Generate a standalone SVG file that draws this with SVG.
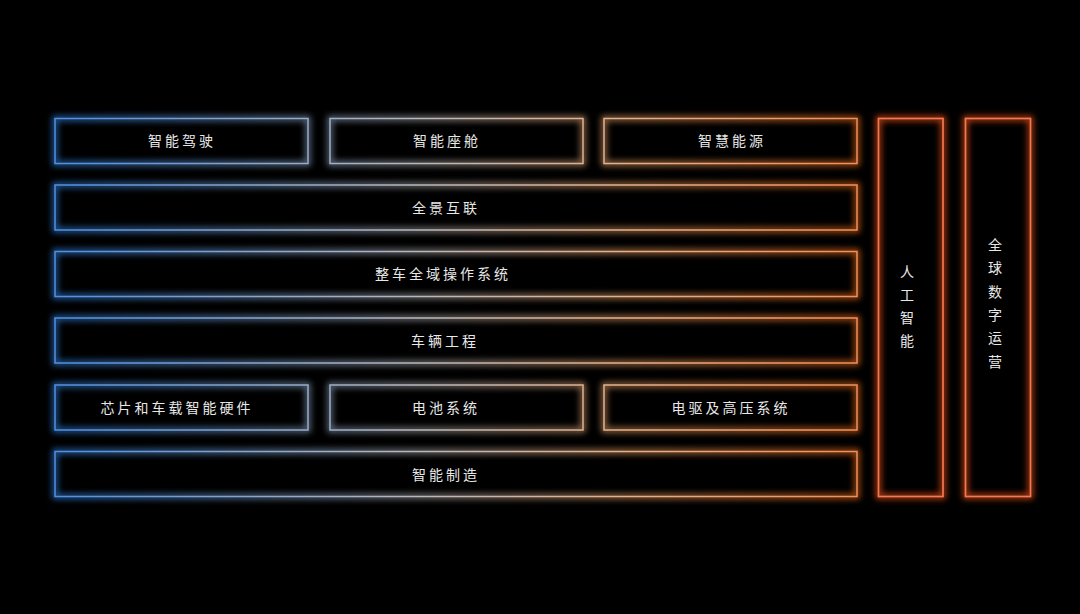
<svg xmlns="http://www.w3.org/2000/svg" width="1080" height="614" viewBox="0 0 1080 614">
<defs>
<linearGradient id="g" gradientUnits="userSpaceOnUse" x1="55" y1="0" x2="857" y2="0">
<stop offset="0" stop-color="#2f7fe0"/>
<stop offset="0.45" stop-color="#a0a0a5"/>
<stop offset="0.72" stop-color="#d9925a"/>
<stop offset="1" stop-color="#f06a1a"/>
</linearGradient>
<linearGradient id="gc" gradientUnits="userSpaceOnUse" x1="55" y1="0" x2="857" y2="0">
<stop offset="0" stop-color="#4f90e0"/>
<stop offset="0.45" stop-color="#b8b8bc"/>
<stop offset="0.72" stop-color="#e8b088"/>
<stop offset="1" stop-color="#f0905a"/>
</linearGradient>
<filter id="glow" x="-20%" y="-50%" width="140%" height="200%">
<feGaussianBlur stdDeviation="3"/>
</filter>
</defs>
<style>
.glow{fill:none;stroke:url(#g);stroke-width:5;filter:url(#glow);opacity:0.75}
.core{fill:none;stroke:url(#gc);stroke-width:1.5}
.vglow{fill:none;stroke:#f0501a;stroke-width:5;filter:url(#glow);opacity:0.8}
.vcore{fill:none;stroke:#f27a4e;stroke-width:1.7}
text{font-family:"Noto Sans CJK SC","Noto Sans",sans-serif;font-size:14px;fill:#e8e8e8;text-anchor:middle;letter-spacing:3px}
.v{letter-spacing:0}
</style>
<rect width="1080" height="614" fill="#000"/>
<g id="n1"><rect class="glow" x="55" y="118.5" width="253" height="45"/><rect class="core" x="55" y="118.5" width="253" height="45"/><text x="182" y="146">智能驾驶</text></g>
<g id="n2"><rect class="glow" x="330" y="118.5" width="253" height="45"/><rect class="core" x="330" y="118.5" width="253" height="45"/><text x="447" y="146">智能座舱</text></g>
<g id="n3"><rect class="glow" x="604" y="118.5" width="253" height="45"/><rect class="core" x="604" y="118.5" width="253" height="45"/><text x="732" y="146">智慧能源</text></g>
<g id="n4"><rect class="glow" x="55" y="185" width="802" height="45"/><rect class="core" x="55" y="185" width="802" height="45"/><text x="446" y="213">全景互联</text></g>
<g id="n5"><rect class="glow" x="55" y="251.5" width="802" height="45"/><rect class="core" x="55" y="251.5" width="802" height="45"/><text x="443" y="279">整车全域操作系统</text></g>
<g id="n6"><rect class="glow" x="55" y="318" width="802" height="45"/><rect class="core" x="55" y="318" width="802" height="45"/><text x="445" y="346">车辆工程</text></g>
<g id="n7"><rect class="glow" x="55" y="385" width="253" height="45"/><rect class="core" x="55" y="385" width="253" height="45"/><text x="177" y="413">芯片和车载智能硬件</text></g>
<g id="n8"><rect class="glow" x="330" y="385" width="253" height="45"/><rect class="core" x="330" y="385" width="253" height="45"/><text x="446" y="413">电池系统</text></g>
<g id="n9"><rect class="glow" x="604" y="385" width="253" height="45"/><rect class="core" x="604" y="385" width="253" height="45"/><text x="731" y="413">电驱及高压系统</text></g>
<g id="n10"><rect class="glow" x="55" y="451.5" width="802" height="45"/><rect class="core" x="55" y="451.5" width="802" height="45"/><text x="446" y="480">智能制造</text></g>
<g id="n11"><rect class="vglow" x="878.5" y="118.5" width="64.5" height="378"/><rect class="vcore" x="878.5" y="118.5" width="64.5" height="378"/>
<text class="v" x="907" y="277">人</text><text class="v" x="907" y="300">工</text><text class="v" x="907" y="323">智</text><text class="v" x="907" y="346">能</text></g>
<g id="n12"><rect class="vglow" x="965.5" y="118.5" width="65" height="378"/><rect class="vcore" x="965.5" y="118.5" width="65" height="378"/>
<text class="v" x="995" y="250">全</text><text class="v" x="995" y="273">球</text><text class="v" x="995" y="297">数</text><text class="v" x="995" y="320">字</text><text class="v" x="995" y="343">运</text><text class="v" x="995" y="367">营</text></g>
<g id="connectors"></g>
</svg>
